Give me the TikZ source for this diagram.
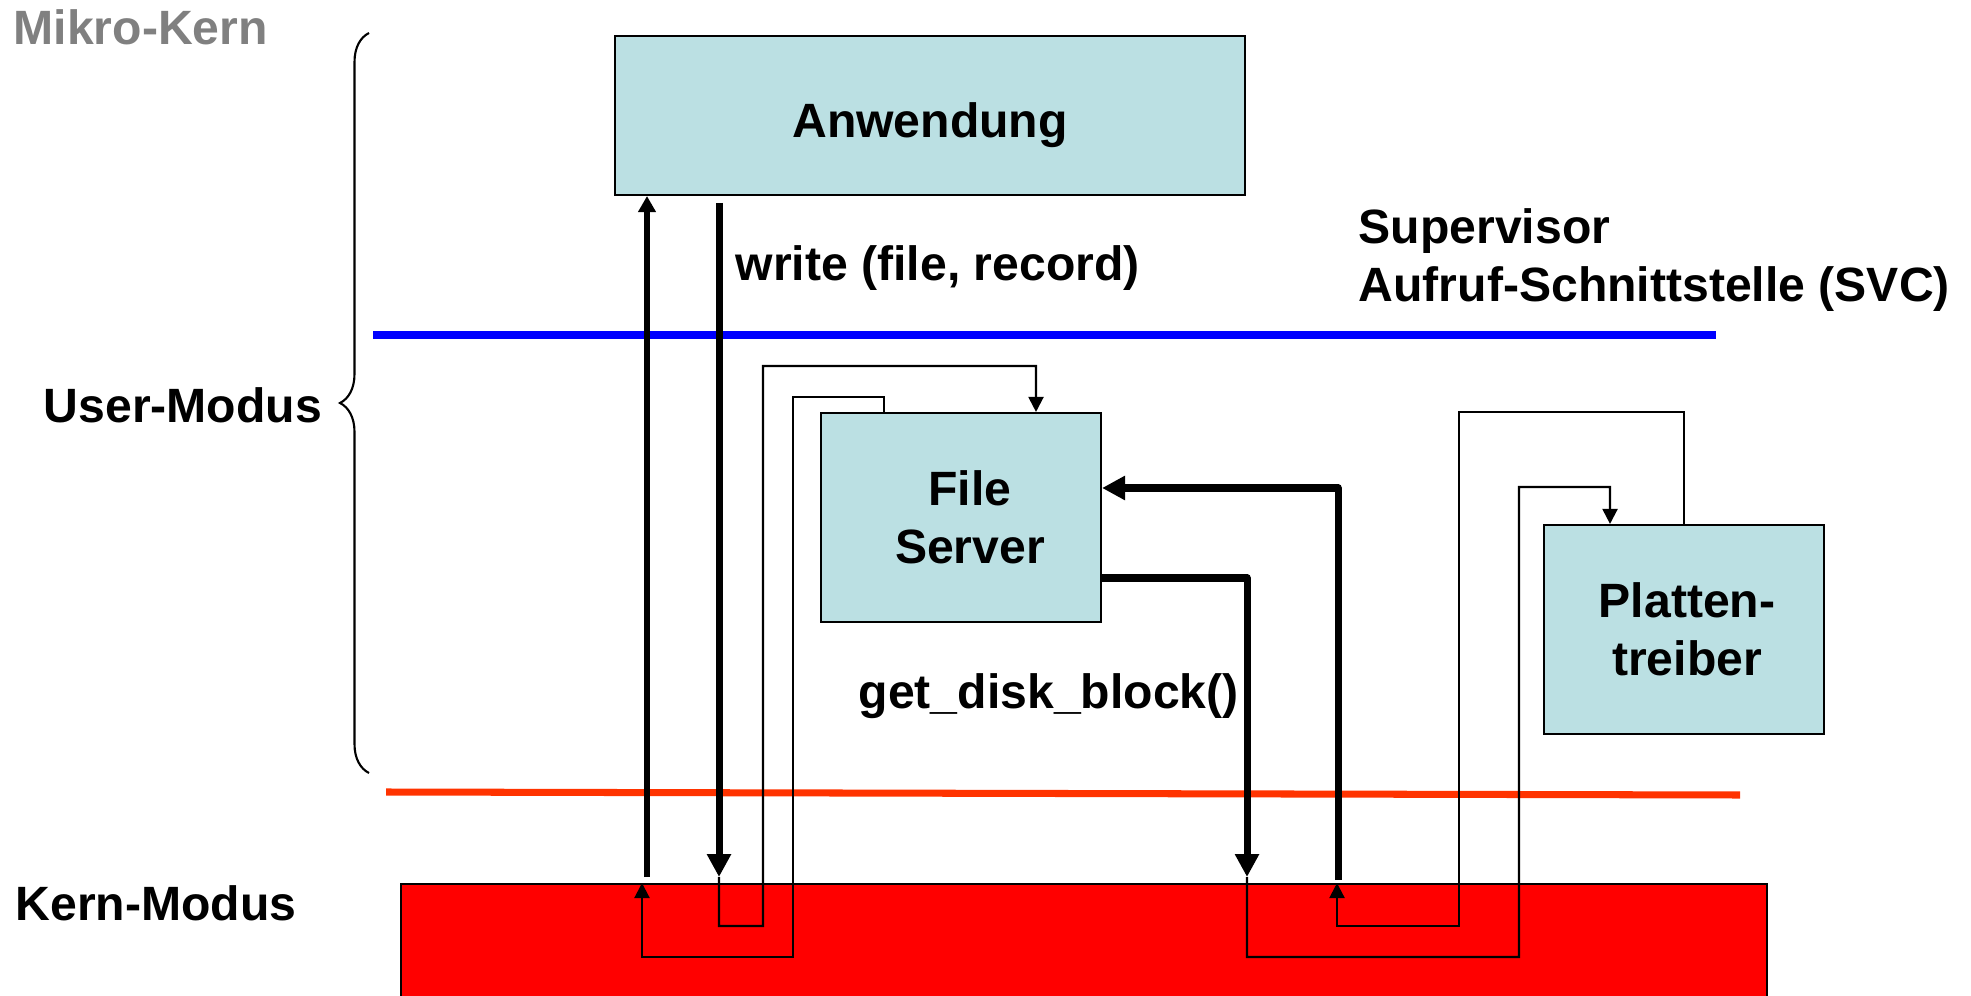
\documentclass[tikz,border=0pt]{standalone}
\usepackage{fontspec}
\setmainfont{Liberation Sans}
\usepackage{xcolor}
\usepackage{tikz}
\usetikzlibrary{arrows.meta}
\usetikzlibrary{positioning}
\usetikzlibrary{decorations.pathreplacing}
\definecolor{boxcyan}{RGB}{187,224,227}
\definecolor{svcblue}{RGB}{0,0,255}
\definecolor{modeorange}{RGB}{255,51,0}
\definecolor{kernred}{RGB}{255,0,0}
\tikzset{
    mybox/.style = {rectangle, draw=black, line width=0.6pt, fill=boxcyan, align=center, minimum width=28mm, minimum height=20.9mm},
    kernbox/.style = {rectangle, draw=black, line width=0.6pt, fill=kernred, minimum width=136.6mm, minimum height=20mm, anchor=north west},
    label/.style = {inner sep=0pt, anchor=base west},
}
\begin{document}
\begin{tikzpicture}[
	x=0.1mm, y=-0.1mm,
	font=\bfseries\fontsize{13.7}{16.5}\selectfont
]
\tikzset{
    edgethin/.style = {line width=0.6pt, -{Triangle[length=1.5mm,width=1.5mm]}},
    edgemid/.style = {line width=1.7pt, -{Triangle[length=1.6mm,width=1.7mm]}},
    edgethick/.style = {line width=2pt, line join=round, -{Triangle[length=2.3mm,width=2.3mm]}},
    modeline/.style = {line width=2pt}
}
\useasboundingbox (0,0) rectangle (1971,996);
\node[kernbox] at (400,883) (kern) {};
\node[mybox, minimum width=63mm, minimum height=15.9mm, text height=4.5mm, text depth=0pt] at (930,115.5) (anw) {Anwendung};
\node[mybox] at (961,517.5) (fs) {\hspace*{1.8mm}File\\\hspace*{1.8mm}Server};
\node[mybox] at (1684,629.5) (pt) {\hspace*{0.6mm}Platten-\\\hspace*{0.6mm}treiber};
%
\node[label, text=gray] at (13,45) (mk) {Mikro-Kern};
\node[label] at (43,423) (um) {User-Modus};
\node[label] at (15,920) (km) {Kern-Modus};
\node[label] at (735,281) (wr) {write (file, record)};
\node[label] at (858,708) (gd) {get\_disk\_block()};
\node[inner sep=0pt, anchor=north west, align=left] at (1358,208) (svc) {Supervisor\\Aufruf-Schnittstelle (SVC)};
%
\draw[line width=0.6pt, decorate, decoration={brace, amplitude=2.9mm}] (369,773) -- (369,33);
\draw[modeline, svcblue] (373,335) -- (1716,335);
\draw[modeline, modeorange] (386,792) -- (1740,795);
%
\coordinate (a1) at (647,877);
\coordinate (a2) at (719,203);
\coordinate (a3) at (719,877);
\coordinate (a4) at (642,883);
\coordinate (b1) at (1247,578);
\coordinate (b2) at (1247,877);
\coordinate (b3) at (1338,880);
\coordinate (b4) at (1338,488);
\coordinate (b5) at (1337,883);
%
\draw[edgemid] (a1) -- (anw.south -| a1);
\draw[edgethick] (a2) -- (a3);
\draw[edgethick] (fs.east |- b1) -- (b1) -- (b2);
\draw[edgethick] (b3) -- (b4) -- (fs.east |- b4);
%
\draw[edgethin] (a3) |- (763,926) |- (1036,366) -- ([xshift=7.5mm]fs.north);
\draw[edgethin] ([xshift=-7.7mm]fs.north) |- (793,397) |- (642,957) -- (a4);
\draw[edgethin] (b2) |- (1519,957) |- (1610,487) -- ([xshift=-7.4mm]pt.north);
\draw[edgethin] (pt.north) |- (1459,412) |- (1337,926) -- (b5);
\end{tikzpicture}
\end{document}
